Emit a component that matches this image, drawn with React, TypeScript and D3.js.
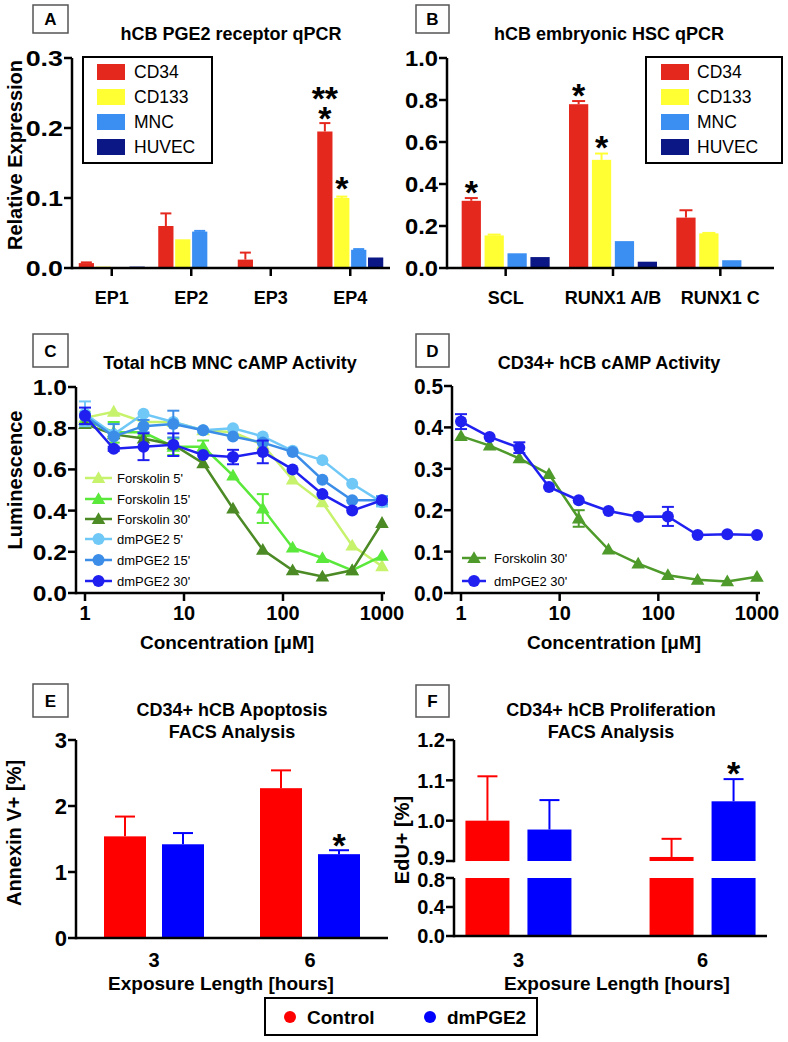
import React from 'react';
import * as d3 from 'd3';

const FONT = "'Liberation Sans', Arial, Helvetica, sans-serif";

// ---------- Panel A data ----------
const receptorCategories = ['EP1', 'EP2', 'EP3', 'EP4'];
const cellTypes = ['CD34', 'CD133', 'MNC', 'HUVEC'];
const cellColors = ['#e5281e', '#ffff33', '#3b8ff2', '#0a1784'];
const receptorCD34 = [0.007, 0.060, 0.012, 0.195];
const receptorCD34Err = [0.001, 0.018, 0.010, 0.012];
const receptorCD133 = [0.002, 0.041, 0.0, 0.100];
const receptorCD133Err = [0, 0, 0, 0.002];
const receptorMNC = [0.001, 0.052, 0.001, 0.026];
const receptorMNCErr = [0, 0.001, 0, 0.001];
const receptorHUVEC = [0.002, 0, 0, 0.015];
const receptorHUVECErr = [0, 0, 0, 0];
const receptorTicks = [0, 0.1, 0.2, 0.3];

// ---------- Panel B data ----------
const hscCategories = ['SCL', 'RUNX1 A/B', 'RUNX1 C'];
const hscCD34 = [0.32, 0.78, 0.24];
const hscCD34Err = [0.013, 0.015, 0.035];
const hscCD133 = [0.155, 0.515, 0.165];
const hscCD133Err = [0.004, 0.03, 0.002];
const hscMNC = [0.07, 0.128, 0.037];
const hscMNCErr = [0, 0, 0];
const hscHUVEC = [0.052, 0.03, 0];
const hscHUVECErr = [0, 0, 0];
const hscTicks = [0, 0.2, 0.4, 0.6, 0.8, 1.0];

// ---------- Panel C / D data ----------
const concentrations = [1, 1.95, 3.9, 7.8, 15.6, 31.25, 62.5, 125, 250, 500, 1000];
const concTicks = [1, 10, 100, 1000];
const forskolin5 = [0.85, 0.88, 0.83, 0.83, 0.79, 0.78, 0.72, 0.55, 0.44, 0.23, 0.13];
const forskolin5Err = [0.03, 0, 0, 0, 0, 0, 0, 0, 0, 0, 0];
const forskolin15 = [0.84, 0.78, 0.78, 0.71, 0.71, 0.57, 0.41, 0.22, 0.17, 0.11, 0.18];
const forskolin15Err = [0, 0.05, 0, 0.04, 0.03, 0, 0.07, 0, 0, 0, 0];
const forskolin30 = [0.82, 0.77, 0.75, 0.72, 0.63, 0.41, 0.21, 0.11, 0.08, 0.11, 0.34];
const forskolin30Err = [0, 0, 0, 0, 0, 0, 0, 0, 0, 0, 0];
const dmPGE2_5 = [0.87, 0.77, 0.87, 0.83, 0.79, 0.80, 0.76, 0.69, 0.645, 0.53, 0.44];
const dmPGE2_5Err = [0.06, 0, 0, 0, 0, 0, 0, 0, 0, 0, 0.02];
const dmPGE2_15 = [0.86, 0.76, 0.81, 0.82, 0.79, 0.76, 0.73, 0.685, 0.55, 0.45, 0.45];
const dmPGE2_15Err = [0, 0.06, 0.03, 0.065, 0, 0, 0, 0, 0, 0, 0.02];
const dmPGE2_30 = [0.86, 0.70, 0.71, 0.72, 0.67, 0.66, 0.685, 0.60, 0.48, 0.40, 0.45];
const dmPGE2_30Err = [0.04, 0.01, 0.065, 0.055, 0, 0.035, 0.055, 0, 0, 0, 0];
const mncTicks = [0, 0.2, 0.4, 0.6, 0.8, 1.0];

const cd34Forskolin30 = [0.379, 0.356, 0.325, 0.287, 0.18, 0.105, 0.071, 0.043, 0.032, 0.028, 0.039];
const cd34Forskolin30Err = [0, 0, 0, 0, 0.02, 0, 0, 0, 0, 0, 0];
const cd34DmPGE2_30 = [0.414, 0.377, 0.351, 0.256, 0.224, 0.198, 0.184, 0.185, 0.14, 0.142, 0.14];
const cd34DmPGE2_30Err = [0.018, 0, 0.013, 0, 0, 0, 0, 0.023, 0, 0, 0];
const cd34Ticks = [0, 0.1, 0.2, 0.3, 0.4, 0.5];

// ---------- Panel E / F data ----------
const exposure = ['3', '6'];
const apoptosisControl = [1.54, 2.27];
const apoptosisControlErr = [0.30, 0.27];
const apoptosisDm = [1.42, 1.27];
const apoptosisDmErr = [0.17, 0.06];
const apoptosisTicks = [0, 1, 2, 3];
const prolifControl = [1.0, 0.91];
const prolifControlErr = [0.11, 0.045];
const prolifDm = [0.978, 1.048];
const prolifDmErr = [0.073, 0.055];
const prolifTicksTop = [0.9, 1.0, 1.1, 1.2];
const prolifTicksBottom = [0, 0.4, 0.8];
const controlColor = '#ff0000';
const dmColor = '#0000ff';

const AXW = 2.5;
const f1 = d3.format('.1f');

function YAxis({ x, scale, ticks, fmt, size = 22, sx = 1, shift = {} }: any) {
  const r = scale.range();
  return (
    <g>
      <line x1={x} x2={x} y1={r[0] + AXW / 2} y2={r[1]} stroke="#000" strokeWidth={AXW} />
      {ticks.map((t: number) => (
        <g key={t}>
          <line x1={x - 8} x2={x} y1={scale(t)} y2={scale(t)} stroke="#000" strokeWidth={AXW} />
          <text
            transform={`translate(${x - 9},${scale(t) + (shift[t] || 0)}) scale(${sx},1)`}
            dy="0.36em"
            textAnchor="end"
            fontSize={size}
            fontWeight="bold"
          >
            {fmt(t)}
          </text>
        </g>
      ))}
    </g>
  );
}

function PanelBox({ x, y, w, h, letter }: any) {
  return (
    <g>
      <rect x={x} y={y} width={w} height={h} fill="#fff" stroke="#555" strokeWidth={1.5} />
      <text x={x + w / 2} y={y + h / 2} dy="0.36em" textAnchor="middle" fontSize={17} fontWeight="bold">
        {letter}
      </text>
    </g>
  );
}

const STAR_OFF = 17;

function Star({ x, y, text = '*' }: any) {
  // y = visual centre of the asterisk
  return (
    <text x={x} y={y + STAR_OFF} textAnchor="middle" fontSize={34} fontWeight="bold">
      {text}
    </text>
  );
}

function BarLegend({ x, y, w, h, swX, txX, rows }: any) {
  return (
    <g>
      <rect x={x} y={y} width={w} height={h} fill="#fff" stroke="#000" strokeWidth={2} />
      {cellTypes.map((c, i) => (
        <g key={c}>
          <rect x={swX} y={rows[i] - 8} width={28} height={16} fill={cellColors[i]} />
          <text x={txX} y={rows[i]} dy="0.36em" fontSize={17.5}>
            {c}
          </text>
        </g>
      ))}
    </g>
  );
}

function GroupedBars({ cats, x, inner, y, series, errs, cap }: any) {
  const out: any[] = [];
  cats.forEach((c: string, i: number) => {
    series.forEach((s: number[], j: number) => {
      const v = s[i];
      if (v <= 0) return;
      const bx = (x(c) as number) + x.bandwidth() / 2 + (inner(cellTypes[j]) as number);
      const w = inner.bandwidth();
      const cx = bx + w / 2;
      out.push(<rect key={`b${i}-${j}`} x={bx} y={y(v)} width={w} height={y(0) - y(v)} fill={cellColors[j]} />);
      const e = errs[j][i];
      if (e > 0) {
        out.push(
          <g key={`e${i}-${j}`} stroke={cellColors[j]} strokeWidth={2}>
            <line x1={cx} x2={cx} y1={y(v)} y2={y(v + e)} />
            <line x1={cx - cap / 2} x2={cx + cap / 2} y1={y(v + e)} y2={y(v + e)} />
          </g>
        );
      }
    });
  });
  return <g>{out}</g>;
}

function PanelA() {
  const x = d3.scaleBand().domain(receptorCategories).range([72, 390]);
  const inner = d3.scaleBand().domain(cellTypes).range([-33, 33]).paddingInner(0.1);
  const y = d3.scaleLinear().domain([0, 0.3]).range([268, 58]);
  const series = [receptorCD34, receptorCD133, receptorMNC, receptorHUVEC];
  const errs = [receptorCD34Err, receptorCD133Err, receptorMNCErr, receptorHUVECErr];
  const redX = (x('EP4') as number) + x.bandwidth() / 2 + (inner('CD34') as number) + inner.bandwidth() / 2;
  const yelX = (x('EP4') as number) + x.bandwidth() / 2 + (inner('CD133') as number) + inner.bandwidth() / 2;
  return (
    <g>
      <PanelBox x={33} y={5} w={35} h={28} letter="A" />
      <text x={231} y={40} textAnchor="middle" fontSize={18} fontWeight="bold">hCB PGE2 receptor qPCR</text>
      <GroupedBars cats={receptorCategories} x={x} inner={inner} y={y} series={series} errs={errs} cap={11} />
      <line x1={72} x2={390} y1={268} y2={268} stroke="#000" strokeWidth={AXW} />
      {receptorCategories.map((c) => {
        const cx = (x(c) as number) + x.bandwidth() / 2;
        return (
          <g key={c}>
            <line x1={cx} x2={cx} y1={268} y2={276} stroke="#000" strokeWidth={AXW} />
            <text x={cx} y={304} textAnchor="middle" fontSize={18} fontWeight="bold">{c}</text>
          </g>
        );
      })}
      <YAxis x={72} scale={y} ticks={receptorTicks} fmt={f1} sx={1.22} />
      <text transform="translate(15,155) rotate(-90)" textAnchor="middle" dy="0.36em" fontSize={20} fontWeight="bold">
        Relative Expression
      </text>
      <BarLegend x={83} y={57} w={129} h={106} swX={97} txX={134} rows={[72, 97, 122, 147]} />
      <text x={redX} y={93 + STAR_OFF} textAnchor="middle" fontSize={34} fontWeight="bold">
        <tspan x={redX}>**</tspan>
        <tspan x={redX} dy={20}>*</tspan>
      </text>
      <Star x={yelX} y={183} />
    </g>
  );
}

function PanelB() {
  const x = d3.scaleBand().domain(hscCategories).range([452, 774]);
  const inner = d3.scaleBand().domain(cellTypes).range([-44, 44]).paddingInner(0.16);
  const y = d3.scaleLinear().domain([0, 1]).range([268, 58]);
  const series = [hscCD34, hscCD133, hscMNC, hscHUVEC];
  const errs = [hscCD34Err, hscCD133Err, hscMNCErr, hscHUVECErr];
  const bc = (c: string, t: string) => (x(c) as number) + x.bandwidth() / 2 + (inner(t) as number) + inner.bandwidth() / 2;
  return (
    <g>
      <PanelBox x={416} y={5} w={33} h={28} letter="B" />
      <text x={609} y={40} textAnchor="middle" fontSize={18} fontWeight="bold">hCB embryonic HSC qPCR</text>
      <GroupedBars cats={hscCategories} x={x} inner={inner} y={y} series={series} errs={errs} cap={13} />
      <line x1={447} x2={774} y1={268} y2={268} stroke="#000" strokeWidth={AXW} />
      {hscCategories.map((c) => {
        const cx = (x(c) as number) + x.bandwidth() / 2;
        return (
          <g key={c}>
            <line x1={cx} x2={cx} y1={268} y2={276} stroke="#000" strokeWidth={AXW} />
            <text x={cx} y={304} textAnchor="middle" fontSize={18} fontWeight="bold">{c}</text>
          </g>
        );
      })}
      <YAxis x={447} scale={y} ticks={hscTicks} fmt={f1} sx={1.08} />
      <BarLegend x={646} y={57} w={136} h={106} swX={661} txX={697} rows={[72, 97, 122, 147]} />
      <Star x={bc('SCL', 'CD34')} y={187} />
      <Star x={bc('RUNX1 A/B', 'CD34')} y={90} />
      <Star x={bc('RUNX1 A/B', 'CD133')} y={142} />
    </g>
  );
}

function Marker({ kind, x, y, color }: any) {
  if (kind === 'tri') {
    const p = d3.symbol(d3.symbolTriangle, 80)();
    return <path d={p as string} transform={`translate(${x},${y + 1})`} fill={color} />;
  }
  return <circle cx={x} cy={y} r={6} fill={color} />;
}

function LineSeries({ x, y, values, errs, color, kind }: any) {
  const line = d3
    .line<number>()
    .x((_, i) => x(concentrations[i]))
    .y((d) => y(d));
  return (
    <g>
      <path d={line(values) as string} fill="none" stroke={color} strokeWidth={2.5} />
      {values.map((v: number, i: number) =>
        errs[i] > 0 ? (
          <g key={'e' + i} stroke={color} strokeWidth={2}>
            <line x1={x(concentrations[i])} x2={x(concentrations[i])} y1={y(v - errs[i])} y2={y(v + errs[i])} />
            <line x1={x(concentrations[i]) - 6} x2={x(concentrations[i]) + 6} y1={y(v + errs[i])} y2={y(v + errs[i])} />
            <line x1={x(concentrations[i]) - 6} x2={x(concentrations[i]) + 6} y1={y(v - errs[i])} y2={y(v - errs[i])} />
          </g>
        ) : null
      )}
      {values.map((v: number, i: number) => (
        <Marker key={'m' + i} kind={kind} x={x(concentrations[i])} y={y(v)} color={color} />
      ))}
    </g>
  );
}

function LineLegend({ entries, lx1, lx2, tx, rows }: any) {
  return (
    <g>
      {entries.map((e: any, i: number) => (
        <g key={e.label}>
          <line x1={lx1} x2={lx2} y1={rows[i]} y2={rows[i]} stroke={e.color} strokeWidth={2.5} />
          <Marker kind={e.kind} x={(lx1 + lx2) / 2} y={rows[i]} color={e.color} />
          <text x={tx} y={rows[i]} dy="0.36em" fontSize={13}>{e.label}</text>
        </g>
      ))}
    </g>
  );
}

function LogXAxis({ x, y0, xStart, xEnd, labelX }: any) {
  return (
    <g>
      <line x1={xStart} x2={xEnd} y1={y0} y2={y0} stroke="#000" strokeWidth={AXW} />
      {concTicks.map((t) => (
        <g key={t}>
          <line x1={x(t)} x2={x(t)} y1={y0} y2={y0 + 8} stroke="#000" strokeWidth={AXW} />
          <text x={x(t)} y={620} textAnchor="middle" fontSize={20} fontWeight="bold">{t}</text>
        </g>
      ))}
      <text x={labelX} y={649} textAnchor="middle" fontSize={19} fontWeight="bold">
        Concentration [μM]
      </text>
    </g>
  );
}

function PanelC() {
  const x = d3.scaleLog().domain([1, 1000]).range([85, 382]);
  const y = d3.scaleLinear().domain([0, 1]).range([593, 387]);
  const series = [
    { label: "Forskolin 5'", values: forskolin5, errs: forskolin5Err, color: '#c6f26c', kind: 'tri' },
    { label: "Forskolin 15'", values: forskolin15, errs: forskolin15Err, color: '#5ae83a', kind: 'tri' },
    { label: "Forskolin 30'", values: forskolin30, errs: forskolin30Err, color: '#4b8a24', kind: 'tri' },
    { label: "dmPGE2 5'", values: dmPGE2_5, errs: dmPGE2_5Err, color: '#70c8f7', kind: 'circle' },
    { label: "dmPGE2 15'", values: dmPGE2_15, errs: dmPGE2_15Err, color: '#3b8de8', kind: 'circle' },
    { label: "dmPGE2 30'", values: dmPGE2_30, errs: dmPGE2_30Err, color: '#1f1ff0', kind: 'circle' },
  ];
  return (
    <g>
      <PanelBox x={33} y={334} w={35} h={33} letter="C" />
      <text x={230} y={369} textAnchor="middle" fontSize={18} fontWeight="bold">Total hCB MNC cAMP Activity</text>
      {series.map((s) => (
        <LineSeries key={s.label} x={x} y={y} {...s} />
      ))}
      <LineLegend entries={series} lx1={85} lx2={112} tx={117} rows={[478, 499, 519, 539, 560, 581]} />
      <LogXAxis x={x} y0={593} xStart={76} xEnd={385} labelX={227} />
      <YAxis x={76} scale={y} ticks={mncTicks} fmt={f1} sx={1.12} />
      <text transform="translate(15,480) rotate(-90)" textAnchor="middle" dy="0.36em" fontSize={20} fontWeight="bold">
        Luminescence
      </text>
    </g>
  );
}

function PanelD() {
  const x = d3.scaleLog().domain([1, 1000]).range([461, 757]);
  const y = d3.scaleLinear().domain([0, 0.5]).range([593, 386]);
  const series = [
    { label: "Forskolin 30'", values: cd34Forskolin30, errs: cd34Forskolin30Err, color: '#4e9a2a', kind: 'tri' },
    { label: "dmPGE2 30'", values: cd34DmPGE2_30, errs: cd34DmPGE2_30Err, color: '#2020f0', kind: 'circle' },
  ];
  return (
    <g>
      <PanelBox x={416} y={334} w={33} h={33} letter="D" />
      <text x={609} y={369} textAnchor="middle" fontSize={18} fontWeight="bold">CD34+ hCB cAMP Activity</text>
      {series.map((s) => (
        <LineSeries key={s.label} x={x} y={y} {...s} />
      ))}
      <LineLegend entries={series} lx1={462} lx2={486} tx={494} rows={[558, 581]} />
      <LogXAxis x={x} y0={593} xStart={452} xEnd={760} labelX={614} />
      <YAxis x={452} scale={y} ticks={cd34Ticks} fmt={f1} sx={0.95} />
    </g>
  );
}

function ErrCap({ cx, y1, y2, color, cap }: any) {
  return (
    <g stroke={color} strokeWidth={2}>
      <line x1={cx} x2={cx} y1={y1} y2={y2} />
      <line x1={cx - cap / 2} x2={cx + cap / 2} y1={y2} y2={y2} />
    </g>
  );
}

function ExposureXAxis({ x, y0, xStart, xEnd, labelX }: any) {
  return (
    <g>
      <line x1={xStart} x2={xEnd} y1={y0} y2={y0} stroke="#000" strokeWidth={AXW} />
      {exposure.map((e) => (
        <text key={e} x={x(e)} y={967} textAnchor="middle" fontSize={20} fontWeight="bold">{e}</text>
      ))}
      <text x={labelX} y={990} textAnchor="middle" fontSize={19} fontWeight="bold">Exposure Length [hours]</text>
    </g>
  );
}

function PanelE() {
  const x = d3.scalePoint().domain(exposure).range([76, 388]).padding(0.5);
  const y = d3.scaleLinear().domain([0, 3]).range([938, 740]);
  const w = 42;
  const off = 29;
  return (
    <g>
      <PanelBox x={33} y={684} w={35} h={33} letter="E" />
      <text x={232} y={716} textAnchor="middle" fontSize={18} fontWeight="bold">CD34+ hCB Apoptosis</text>
      <text x={232} y={738} textAnchor="middle" fontSize={18} fontWeight="bold">FACS Analysis</text>
      {exposure.map((e, i) => {
        const cx = x(e) as number;
        return (
          <g key={e}>
            <rect x={cx - off - w / 2} y={y(apoptosisControl[i])} width={w} height={y(0) - y(apoptosisControl[i])} fill={controlColor} />
            <ErrCap cx={cx - off} y1={y(apoptosisControl[i])} y2={y(apoptosisControl[i] + apoptosisControlErr[i])} color={controlColor} cap={20} />
            <rect x={cx + off - w / 2} y={y(apoptosisDm[i])} width={w} height={y(0) - y(apoptosisDm[i])} fill={dmColor} />
            <ErrCap cx={cx + off} y1={y(apoptosisDm[i])} y2={y(apoptosisDm[i] + apoptosisDmErr[i])} color={dmColor} cap={20} />
          </g>
        );
      })}
      <Star x={(x('6') as number) + off} y={840} />
      <ExposureXAxis x={x} y0={938} xStart={76} xEnd={388} labelX={221} />
      <YAxis x={76} scale={y} ticks={apoptosisTicks} fmt={d3.format('d')} />
      <text transform="translate(14,833) rotate(-90)" textAnchor="middle" dy="0.36em" fontSize={20} fontWeight="bold">
        Annexin V+ [%]
      </text>
    </g>
  );
}

function PanelF() {
  const x = d3.scalePoint().domain(exposure).range([454, 767]).padding(0.35);
  const yTop = d3.scaleLinear().domain([0.9, 1.2]).range([861, 740]);
  const yBot = d3.scaleLinear().domain([0, 0.8]).range([936, 878]);
  const w = 44;
  const off = 31;
  const bars = (cx: number, v: number, e: number, color: string) => (
    <g>
      <rect x={cx - w / 2} y={yBot(0.8)} width={w} height={yBot(0) - yBot(0.8)} fill={color} />
      <rect x={cx - w / 2} y={yTop(v)} width={w} height={yTop(0.9) - yTop(v)} fill={color} />
      <ErrCap cx={cx} y1={yTop(v)} y2={yTop(v + e)} color={color} cap={20} />
    </g>
  );
  return (
    <g>
      <PanelBox x={416} y={685} w={33} h={32} letter="F" />
      <text x={611} y={716} textAnchor="middle" fontSize={18} fontWeight="bold">CD34+ hCB Proliferation</text>
      <text x={611} y={738} textAnchor="middle" fontSize={18} fontWeight="bold">FACS Analysis</text>
      {exposure.map((e, i) => {
        const cx = x(e) as number;
        return (
          <g key={e}>
            {bars(cx - off, prolifControl[i], prolifControlErr[i], controlColor)}
            {bars(cx + off, prolifDm[i], prolifDmErr[i], dmColor)}
          </g>
        );
      })}
      <Star x={(x('6') as number) + off} y={768} />
      <ExposureXAxis x={x} y0={936} xStart={454} xEnd={767} labelX={617} />
      <YAxis x={454} scale={yTop} ticks={prolifTicksTop} fmt={f1} size={20} shift={{ 0.9: -3 }} />
      <YAxis x={454} scale={yBot} ticks={prolifTicksBottom} fmt={f1} size={20} shift={{ 0.8: 2 }} />
      <text transform="translate(402,840) rotate(-90)" textAnchor="middle" dy="0.36em" fontSize={20} fontWeight="bold">
        EdU+ [%]
      </text>
    </g>
  );
}

function BottomLegend() {
  return (
    <g>
      <rect x={265} y={998} width={272} height={37} fill="#fff" stroke="#000" strokeWidth={2} />
      <circle cx={290} cy={1017} r={6} fill={controlColor} />
      <text x={307} y={1017} dy="0.36em" fontSize={19} fontWeight="bold">Control</text>
      <circle cx={430} cy={1017} r={6} fill={dmColor} />
      <text x={447} y={1017} dy="0.36em" fontSize={19} fontWeight="bold">dmPGE2</text>
    </g>
  );
}

export default function App() {
  return (
    <svg
      width={788}
      height={1042}
      style={{ position: 'absolute', left: 0, top: 0, background: '#fff' }}
      fontFamily={FONT}
    >
      <rect width={788} height={1042} fill="#fff" />
      <PanelA />
      <PanelB />
      <PanelC />
      <PanelD />
      <PanelE />
      <PanelF />
      <BottomLegend />
    </svg>
  );
}
